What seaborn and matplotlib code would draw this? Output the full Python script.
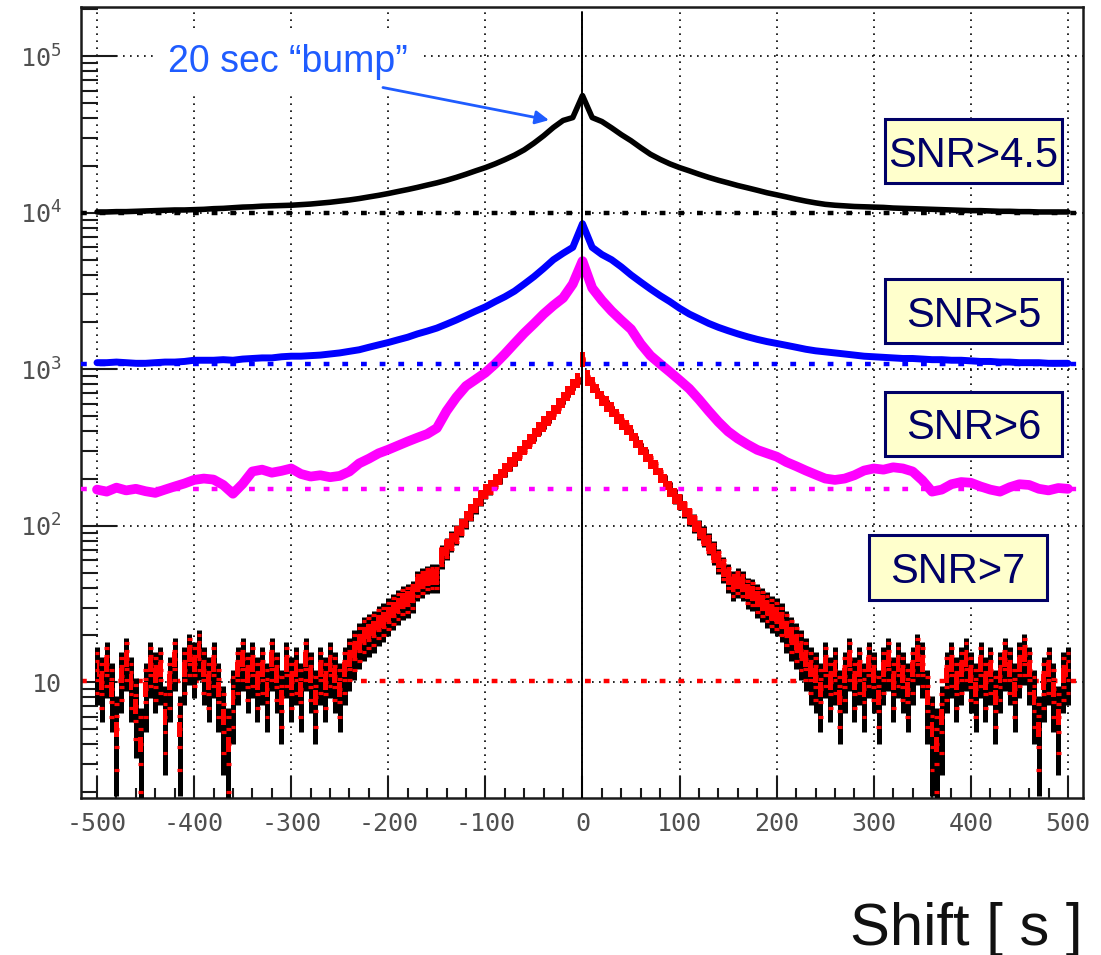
import numpy as np
import pandas as pd
import matplotlib
matplotlib.use("Agg")
import matplotlib.pyplot as plt
from matplotlib.patches import Rectangle
from matplotlib.ticker import MultipleLocator, LogLocator, NullFormatter
import seaborn as sns

# ---------------------------------------------------------------- data
# time shift grids [s]
shift_10s = np.arange(-500, 501, 10)
shift_5s = np.arange(-500, 501, 5)

# coincidence counts per shift bin, SNR > 4.5 (10 s bins)
snr45 = [10100, 10100, 10150, 10150, 10200, 10250, 10300, 10350, 10400, 10400,
         10450, 10500, 10600, 10650, 10750, 10850, 10900, 11000, 11050, 11100,
         11150, 11250, 11350, 11500, 11650, 11850, 12050, 12300, 12600, 12900,
         13250, 13650, 14050, 14500, 15000, 15500, 16100, 16800, 17600, 18500,
         19400, 20500, 21800, 23300, 25200, 27800, 31000, 35000, 38800, 40500,
         56000,
         40500, 38200, 34800, 31500, 28800, 26000, 23600, 21900, 20500, 19400,
         18500, 17600, 16800, 16100, 15500, 14900, 14400, 13900, 13400, 13000,
         12600, 12200, 11850, 11550, 11300, 11150, 11050, 10950, 10900, 10850,
         10800, 10700, 10650, 10600, 10550, 10500, 10450, 10400, 10350, 10300,
         10300, 10250, 10200, 10200, 10150, 10150, 10100, 10100, 10100, 10100]

# SNR > 5 (10 s bins)
snr5 = [1100, 1100, 1110, 1100, 1090, 1090, 1100, 1110, 1110, 1120,
        1140, 1140, 1140, 1150, 1140, 1160, 1170, 1180, 1180, 1200,
        1210, 1210, 1220, 1230, 1250, 1270, 1300, 1330, 1380, 1430,
        1480, 1540, 1600, 1680, 1750, 1830, 1940, 2060, 2200, 2350,
        2500, 2700, 2900, 3150, 3500, 3900, 4400, 5000, 5500, 6000,
        8500,
        6000, 5400, 5000, 4500, 4000, 3600, 3250, 2950, 2700, 2450,
        2250, 2100, 1960, 1850, 1760, 1680, 1610, 1550, 1500, 1460,
        1420, 1380, 1340, 1310, 1290, 1270, 1250, 1230, 1210, 1200,
        1190, 1180, 1170, 1170, 1160, 1150, 1150, 1140, 1140, 1130,
        1120, 1120, 1110, 1110, 1100, 1100, 1100, 1090, 1090, 1090]

# SNR > 6 (10 s bins)
snr6 = [170, 165, 175, 168, 172, 166, 162, 170, 178, 186,
        196, 200, 197, 182, 160, 185, 222, 228, 218, 224,
        232, 214, 206, 210, 204, 208, 222, 250, 268, 290,
        306, 325, 345, 365, 385, 420, 540, 660, 780, 860,
        950, 1080, 1250, 1460, 1700, 1950, 2250, 2550, 2850, 3500,
        4900,
        3300, 2750, 2350, 2050, 1800, 1450, 1220, 1080, 960, 850,
        750, 640, 540, 460, 400, 360, 330, 305, 290, 276,
        255, 240, 225, 212, 200, 196, 200, 210, 225, 232,
        228, 236, 232, 222, 195, 165, 170, 184, 190, 188,
        178, 170, 165, 176, 184, 182, 172, 168, 174, 172]

# SNR > 7 (5 s bins)
snr7 = [12, 10, 13, 9, 5, 11, 14, 10, 7, 4,
        9, 13, 11, 12, 6, 10, 14, 5, 12, 15,
        13, 16, 12, 10, 13, 9, 6, 4, 8, 12,
        14, 11, 13, 10, 12, 9, 14, 11, 8, 13,
        10, 12, 9, 14, 11, 8, 12, 10, 13, 11,
        9, 12, 14,
        16, 18, 20, 21, 22, 24, 25, 27, 29, 31,
        33, 34, 36, 42, 44, 46, 47, 47, 64, 72,
        80, 88, 98, 110, 122, 135, 150, 165, 175, 190,
        205, 225, 245, 265, 290, 315, 345, 375, 410, 445,
        485, 530, 580, 635, 700, 770, 850,
        1150,
        880, 790, 720, 650, 600, 550, 500, 460, 425, 390,
        350, 315, 285, 258, 235, 210, 190, 172, 155, 142,
        128, 115, 104, 95, 86, 77, 68, 60, 53, 47,
        42, 44, 42, 38, 37, 34, 32, 30, 28, 27,
        25, 22, 20, 18, 16, 14, 12,
        11, 9, 13, 10, 12, 8, 11, 14, 10, 12,
        9, 13, 11, 8, 12, 14, 10, 13, 11, 9,
        12, 15, 13, 8, 5, 4, 6, 11, 13, 10,
        12, 14, 11, 9, 13, 10, 12, 8, 11, 14,
        12, 9, 13, 15, 12, 8, 5, 10, 12, 9,
        6, 11, 12]

# flat accidental-background levels
bg45 = 1.0e4
bg5 = 1.074e3
bg6 = 171
bg7 = 10.2

snr_labels = ["SNR>4.5", "SNR>5", "SNR>6", "SNR>7"]
xtick_values = list(range(-500, 501, 100))
xtick_labels = ["-500", "-400", "-300", "-200", "-100", "0",
                "100", "200", "300", "400", "500"]
ytick_values = [10, 1e2, 1e3, 1e4, 1e5]
ytick_labels = ["10", "$10^{2}$", "$10^{3}$", "$10^{4}$", "$10^{5}$"]
bump_label = "20 sec \u201cbump\u201d"
xlabel = "Shift [ s ]"

# ---------------------------------------------------------------- style
sns.set_style("white")
plt.rcParams["font.family"] = ["DejaVu Sans"]
plt.rcParams["mathtext.fontset"] = "custom"
plt.rcParams["mathtext.rm"] = "DejaVu Sans Mono"
plt.rcParams["mathtext.it"] = "DejaVu Sans Mono"
plt.rcParams["mathtext.default"] = "regular"

fig = plt.figure(figsize=(11.01, 9.55), dpi=100)
ax = fig.add_axes([81 / 1101, 1 - 798 / 955, 1002 / 1101, 791 / 955])
ax.set_yscale("log")
ax.set_xlim(-516.5, 515.5)
ax.set_ylim(1.82, 2.06e5)

# dotted grid
grid_style = dict(color="black", linestyle=(0, (1, 3.2)), linewidth=1.2)
ax.set_xticks(xtick_values, labels=xtick_labels)
ax.set_yticks(ytick_values, labels=ytick_labels)
ax.xaxis.set_minor_locator(MultipleLocator(20))
ax.yaxis.set_minor_locator(LogLocator(base=10, subs=np.arange(2, 10)))
ax.yaxis.set_minor_formatter(NullFormatter())
ax.grid(True, which="major", **grid_style)
ax.set_axisbelow(True)

# ---------------------------------------------------------------- curves
# SNR>7: solid black Poisson bars, red band and bin markers on top
df7 = pd.DataFrame({"shift": shift_5s, "count": snr7})
n7 = df7["count"].to_numpy(dtype=float)
s7 = np.sqrt(n7)
ax.errorbar(df7["shift"], n7, yerr=1.4 * s7, fmt="none",
            ecolor="black", elinewidth=3.6, capsize=0, zorder=3)
ax.fill_between(df7["shift"], n7 / 1.12, n7 * 1.12, step="mid",
                color="red", linewidth=0, zorder=3.05)
for frac in (0.0, 0.5, -0.5, 1.0, -1.0):
    ax.errorbar(df7["shift"], n7 + frac * s7, xerr=2.5, fmt="none",
                ecolor="red", elinewidth=2.3, capsize=0, zorder=3.1)
ax.axhline(bg7, color="red", linewidth=3.2, dashes=(1.3, 2.9), zorder=2)

df6 = pd.DataFrame({"shift": shift_10s, "count": snr6})
sns.lineplot(data=df6, x="shift", y="count", color="#ff00ff", linewidth=7.0,
             errorbar=None, ax=ax, zorder=4)
ax.axhline(bg6, color="#ff00ff", linewidth=3.2, dashes=(1.3, 2.9), zorder=5)

df5 = pd.DataFrame({"shift": shift_10s, "count": snr5})
sns.lineplot(data=df5, x="shift", y="count", color="#0000ff", linewidth=5.0,
             errorbar=None, ax=ax, zorder=6)
ax.axhline(bg5, color="#0000ff", linewidth=3.2, dashes=(1.3, 2.9), zorder=7)

df45 = pd.DataFrame({"shift": shift_10s, "count": snr45})
sns.lineplot(data=df45, x="shift", y="count", color="black", linewidth=4.0,
             errorbar=None, ax=ax, zorder=8)
ax.axhline(bg45, color="black", linewidth=3.2, dashes=(1.3, 2.9), zorder=9)

# zero-shift marker
ax.axvline(0, ymin=0, ymax=0.994, color="black", linewidth=1.4, zorder=15)

ax.set_xlabel("")
ax.set_ylabel("")

# ---------------------------------------------------------------- axes look
for side in ("left", "bottom", "top", "right"):
    ax.spines[side].set_visible(True)
    ax.spines[side].set_linewidth(1.8)
    ax.spines[side].set_color("#1a1a1a")

ax.tick_params(axis="x", which="major", direction="in", length=16, width=1.5,
               top=False, bottom=True, pad=10, colors="#1a1a1a",
               labelcolor="#505050")
ax.tick_params(axis="x", which="minor", direction="in", length=7, width=1.5,
               top=False, bottom=True, colors="#1a1a1a")
ax.tick_params(axis="y", which="major", direction="in", length=26, width=1.5,
               right=False, left=True, pad=14, colors="#1a1a1a",
               labelcolor="#505050")
ax.tick_params(axis="y", which="minor", direction="in", length=12, width=1.5,
               right=False, left=True, colors="#1a1a1a")
for lab in ax.get_xticklabels() + ax.get_yticklabels():
    lab.set_fontfamily("DejaVu Sans Mono")
    lab.set_fontsize(18)

# ---------------------------------------------------------------- labels
boxes = [(0.8024, 0.7775, 0.1766, 0.0809),
         (0.8024, 0.5752, 0.1766, 0.0809),
         (0.8024, 0.4324, 0.1766, 0.0809),
         (0.7864, 0.2503, 0.1776, 0.0822)]
for label, (bx, by, bw, bh) in zip(snr_labels, boxes):
    ax.add_patch(Rectangle((bx, by), bw, bh, transform=ax.transAxes,
                           facecolor="#ffffcc", edgecolor="#000066",
                           linewidth=2.2, zorder=20))
    ax.text(bx + bw / 2, by + bh / 2, label, transform=ax.transAxes,
            ha="center", va="center_baseline", fontsize=30,
            family="Liberation Sans", color="#000066", zorder=21)

ax.text(-427, 7.96e4, bump_label, color="#1f5cff", fontsize=27,
        family="Liberation Sans", ha="left", va="baseline", zorder=12,
        bbox=dict(facecolor="white", edgecolor="none", pad=10))
ax.annotate("", xy=(-34.5, 3.9e4), xytext=(-205.5, 6.3e4),
            arrowprops=dict(arrowstyle="-|>", color="#1f5cff", lw=2,
                            mutation_scale=20, shrinkA=0, shrinkB=0),
            zorder=13)

fig.text(1082 / 1101, 10 / 955, xlabel, ha="right", va="baseline",
         fontsize=43, family="Liberation Sans", color="#111111")

fig.savefig("out.png", dpi=100)
